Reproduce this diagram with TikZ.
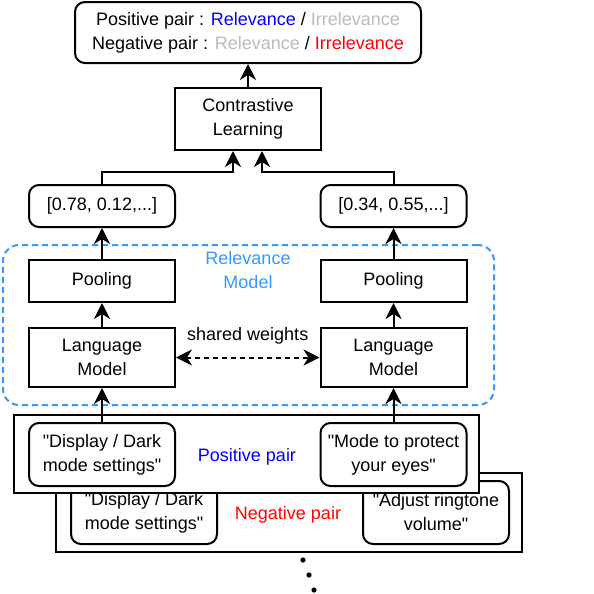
\documentclass[tikz,border=0pt]{standalone}
\usepackage{xcolor}
\usepackage{fontspec}
\setmainfont{Liberation Sans}[Ligatures=TeXOff]
\usepackage{tikz}
\usetikzlibrary{shapes,arrows.meta,positioning}
\definecolor{posblue}{HTML}{0000FF}
\definecolor{neggray}{HTML}{BBBBBB}
\definecolor{negred}{HTML}{FF0000}
\definecolor{modelblue}{HTML}{3399FF}

\begin{document}
\begin{tikzpicture}[
    x=0.5pt, y=-0.5pt,
    font=\fontsize{9}{12}\selectfont,
    block/.style={rectangle, draw=black, fill=white, line width=1pt, align=center,
                  minimum width=73pt, minimum height=21pt, inner sep=1pt},
    roundblock/.style={block, rounded corners=5pt},
    pairbox/.style={rectangle, draw=black, fill=white, line width=1pt,
                    minimum width=232.5pt, minimum height=39pt},
    arrow/.style={-{Stealth[length=8pt, width=8pt, inset=2.5pt]}, line width=1pt},
    dasharrow/.style={{Stealth[length=8pt, width=8pt, inset=2.5pt]}-{Stealth[length=8pt, width=8pt, inset=2.5pt]},
                      line width=1pt, dash pattern=on 2.5pt off 2pt}
]
    \useasboundingbox (0,0) rectangle (594,594);

    % Result box
    \node[roundblock, minimum width=173pt, minimum height=30.5pt] (result) at (248,32.5)
        {Positive pair : \textcolor{posblue}{Relevance} / \textcolor{neggray}{Irrelevance}\\
         Negative pair : \textcolor{neggray}{Relevance} / \textcolor{negred}{Irrelevance}};

    % Contrastive learning
    \node[block, minimum height=31pt] (contrast) at (248,119) {Contrastive\\Learning};

    % Embeddings
    \node[roundblock] (vecL) at (102,206) {[0.78, 0.12,...]};
    \node[roundblock] (vecR) at (393.5,206) {[0.34, 0.55,...]};

    % Relevance model
    \node[rectangle, draw=modelblue, line width=1pt, dash pattern=on 3pt off 2pt,
          rounded corners=8pt, minimum width=245.5pt, minimum height=80pt] (relmodel) at (248.5,325) {};
    \node[text=modelblue, align=center] (reltitle) at (248,270.5) {Relevance\\Model};
    \node[block] (poolL) at (102,281) {Pooling};
    \node[block] (poolR) at (393.5,281) {Pooling};
    \node[block, minimum height=29.5pt] (lmL) at (102,357.5) {Language\\Model};
    \node[block, minimum height=29.5pt] (lmR) at (393.5,357.5) {Language\\Model};

    % Negative pair (behind)
    \node[pairbox, minimum width=233pt, minimum height=39.5pt] (negpair) at (289,512.5) {};
    \node[roundblock, minimum height=31.5pt] (negL) at (144,512.5) {"Display / Dark\\mode settings"};
    \node[roundblock, minimum height=31.5pt] (negR) at (436,512.5) {"Adjust ringtone\\volume"};
    \node[text=negred] (neglabel) at (288,515) {Negative pair};

    % Positive pair (front)
    \node[pairbox] (pospair) at (246.5,454) {};
    \node[roundblock, minimum height=31.5pt] (posL) at (102,454.5) {"Display / Dark\\mode settings"};
    \node[roundblock, minimum height=31.5pt] (posR) at (393.5,454.5) {"Mode to protect\\your eyes"};
    \node[text=posblue] (poslabel) at (247,457) {Positive pair};

    % Connections
    \draw[arrow] (posL) -- (lmL);
    \draw[arrow] (posR) -- (lmR);
    \draw[arrow] (lmL) -- (poolL);
    \draw[arrow] (lmR) -- (poolR);
    \draw[arrow] (poolL) -- (vecL);
    \draw[arrow] (poolR) -- (vecR);
    \draw[dasharrow] (lmL) -- node[above=3pt] (shared) {shared weights} (lmR);
    \draw[arrow] (vecL.north) -- ++(0,-12) -| ([xshift=-7.5pt]contrast.south);
    \draw[arrow] (vecR.north) -- ++(0,-12) -| ([xshift=7pt]contrast.south);
    \draw[arrow] (contrast) -- (result);

    % More pairs
    \foreach \px/\py in {303/560, 309/575, 314/590}
        \fill (\px,\py) circle (1.3pt);
\end{tikzpicture}
\end{document}
